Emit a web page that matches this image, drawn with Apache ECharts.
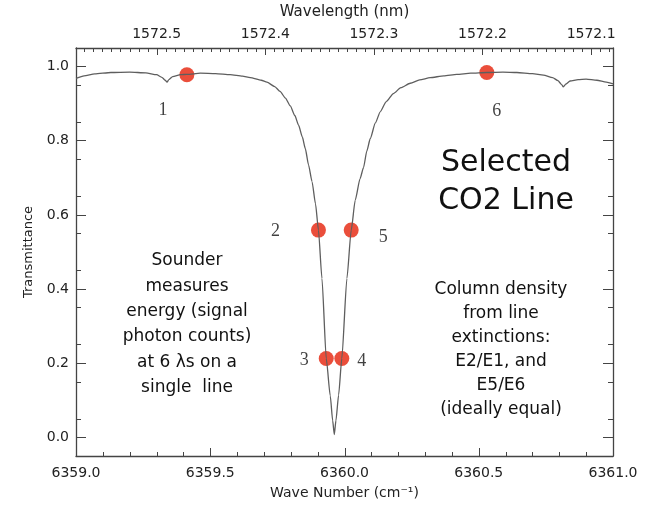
<!DOCTYPE html>
<html>
<head>
<meta charset="utf-8">
<title>Selected CO2 Line</title>
<script src="https://cdn.jsdelivr.net/npm/echarts@6/dist/echarts.min.js"></script>
<style>
  html, body { margin: 0; padding: 0; background: #ffffff; }
  #chart { width: 649px; height: 505px; }
</style>
</head>
<body>
<div id="chart"></div>
<script>
// Transmittance spectrum across the selected CO2 absorption line
const waveNumber = [
  6359.000, 6359.030, 6359.070, 6359.130, 6359.200, 6359.260, 6359.300, 6359.320,
  6359.332, 6359.339, 6359.346, 6359.360, 6359.390, 6359.413, 6359.463, 6359.520,
  6359.574, 6359.620, 6359.649, 6359.690, 6359.711, 6359.740, 6359.760, 6359.780,
  6359.798, 6359.815, 6359.829, 6359.843, 6359.854, 6359.866, 6359.879, 6359.892,
  6359.903, 6359.916, 6359.932, 6359.947, 6359.956, 6359.962, 6359.968, 6359.978,
  6359.990, 6360.009, 6360.025, 6360.040, 6360.058, 6360.071, 6360.083, 6360.096,
  6360.115, 6360.133, 6360.155, 6360.182, 6360.210, 6360.245, 6360.280, 6360.319,
  6360.370, 6360.418, 6360.470, 6360.530, 6360.590, 6360.642, 6360.700, 6360.741,
  6360.775, 6360.795, 6360.808, 6360.815, 6360.825, 6360.840, 6360.870, 6360.900,
  6360.940, 6360.975, 6361.000
];
const transmittance = [
  0.968, 0.975, 0.980, 0.984, 0.985, 0.983, 0.978, 0.971,
  0.963, 0.958, 0.965, 0.973, 0.978, 0.979, 0.982, 0.981,
  0.978, 0.974, 0.970, 0.963, 0.958, 0.946, 0.933, 0.915,
  0.894, 0.868, 0.842, 0.810, 0.779, 0.735, 0.690, 0.630,
  0.559, 0.429, 0.213, 0.112, 0.045, 0.008, 0.045, 0.114,
  0.213, 0.429, 0.559, 0.640, 0.698, 0.728, 0.772, 0.806,
  0.848, 0.878, 0.905, 0.927, 0.943, 0.955, 0.964, 0.970,
  0.975, 0.979, 0.982, 0.984, 0.985, 0.984, 0.981, 0.977,
  0.970, 0.962, 0.952, 0.945, 0.953, 0.961, 0.965, 0.966,
  0.963, 0.958, 0.953
];

// The six sampled wavelengths on the line
const sampleNames = ['1', '2', '3', '4', '5', '6'];
const sampleWaveNumber = [6359.413, 6359.903, 6359.932, 6359.990, 6360.025, 6360.530];
const sampleTransmittance = [0.978, 0.559, 0.213, 0.213, 0.559, 0.984];

// Axis ticks
const waveNumberTicks = [6359.0, 6359.5, 6360.0, 6360.5, 6361.0];
const wavelengthTicks = [1572.1, 1572.2, 1572.3, 1572.4, 1572.5];
const transmittanceTicks = [0.0, 0.2, 0.4, 0.6, 0.8, 1.0];

// Plot ranges
const waveNumberMin = 6359.0, waveNumberMax = 6361.0;
const transMin = -0.05, transMax = 1.05;
// wavelength (nm) = 1e7 / wave number (cm^-1)
const wavelengthLeft = 1e7 / waveNumberMin;
const wavelengthRight = 1e7 / waveNumberMax;

// Minor tick positions
const waveNumberMinor = [];
for (let j = 1; j < 20; j++) {
  if (j % 5 !== 0) waveNumberMinor.push(+(waveNumberMin + j * 0.1).toFixed(2));
}
const wavelengthMinor = [];
for (let j = 0; j <= 80; j++) {
  const v = 1572 + j / 120;
  if (v > wavelengthRight && v < wavelengthLeft && j % 12 !== 0) wavelengthMinor.push(+v.toFixed(5));
}
const transMinor = [];
for (let j = 1; j <= 19; j += 2) transMinor.push(+(j * 0.05).toFixed(2));

// Label placement for the sample markers
const sampleLabelOffsets = [[-24, 36], [-43, 1], [-22, 2], [20, 3], [32, 7], [10, 39]];

const AXIS_COLOR = '#444';
const SANS = '"DejaVu Sans", sans-serif';

// One edge of the frame: a value axis with inward ticks at the given values
function edgeAxis(opts) {
  return {
    type: 'value', position: opts.position, inverse: !!opts.inverse, min: opts.min, max: opts.max,
    splitLine: { show: false },
    axisLine: { show: opts.line !== false, onZero: false, lineStyle: { color: AXIS_COLOR, width: 1.3 } },
    axisTick: { show: opts.tickLength > 0, inside: true, length: opts.tickLength || 0, customValues: opts.ticks,
      lineStyle: { color: AXIS_COLOR, width: 1 } },
    axisLabel: opts.labels ? { show: true, margin: opts.labelMargin, fontFamily: SANS, fontSize: 14,
      color: '#222', customValues: opts.ticks, formatter: v => v.toFixed(1) } : { show: false },
    name: opts.name || '', nameLocation: 'middle', nameGap: opts.nameGap || 0,
    nameTextStyle: { fontFamily: SANS, fontSize: opts.nameSize || 14, color: '#222' }
  };
}

// Free-standing annotations
const annotations = [
  {
    type: 'text', x: 506, y: 144,
    style: {
      text: 'Selected\nCO2 Line', textAlign: 'center', textVerticalAlign: 'top',
      font: '30px "DejaVu Sans", sans-serif', lineHeight: 38, fill: '#111'
    }
  },
  {
    type: 'text', x: 187, y: 248,
    style: {
      text: 'Sounder\nmeasures\nenergy (signal\nphoton counts)\nat 6 \u03BBs on a\nsingle  line',
      textAlign: 'center', textVerticalAlign: 'top',
      font: '17px "DejaVu Sans", sans-serif', lineHeight: 25.4, fill: '#111'
    }
  },
  {
    type: 'text', x: 501, y: 278,
    style: {
      text: 'Column density\nfrom line\nextinctions:\nE2/E1, and\nE5/E6\n(ideally equal)',
      textAlign: 'center', textVerticalAlign: 'top',
      font: '17px "DejaVu Sans", sans-serif', lineHeight: 24, fill: '#111'
    }
  }
];

const chart = echarts.init(document.getElementById('chart'));
chart.setOption({
  animation: false,
  grid: { left: 76, right: 36, top: 48, bottom: 46 },
  xAxis: [
    edgeAxis({ position: 'bottom', min: waveNumberMin, max: waveNumberMax, ticks: waveNumberTicks,
      labels: true, labelMargin: 10,
      name: 'Wave Number (cm\u207B\u00B9)', nameGap: 30, nameSize: 14 }),
    edgeAxis({ position: 'top', inverse: true, min: wavelengthRight, max: wavelengthLeft, ticks: wavelengthTicks,
      labels: true, labelMargin: 7,
      name: 'Wavelength (nm)', nameGap: 28, nameSize: 15 })
  ],
  yAxis: [
    edgeAxis({ position: 'left', min: transMin, max: transMax, ticks: transmittanceTicks,
      tickLength: 10, labels: true, labelMargin: 7,
      name: 'Transmittance', nameGap: 41, nameSize: 13 }),
    edgeAxis({ position: 'left', min: transMin, max: transMax, ticks: transMinor, tickLength: 5, line: false }),
    edgeAxis({ position: 'right', min: transMin, max: transMax, ticks: transmittanceTicks, tickLength: 10 }),
    edgeAxis({ position: 'right', min: transMin, max: transMax, ticks: transMinor, tickLength: 5, line: false })
  ],
  series: [
    {
      name: 'Transmittance',
      type: 'line',
      xAxisIndex: 0, yAxisIndex: 0,
      data: waveNumber.map((w, i) => [w, transmittance[i]]),
      showSymbol: false,
      smooth: 0.2,
      smoothMonotone: 'x',
      lineStyle: { color: '#5e5e5e', width: 1.3 }
    },
    {
      name: 'Samples',
      type: 'scatter',
      xAxisIndex: 0, yAxisIndex: 0,
      symbol: 'circle',
      symbolSize: 15,
      itemStyle: { color: '#e5220a' },
      data: sampleWaveNumber.map((w, i) => ({
        value: [w, sampleTransmittance[i]],
        name: sampleNames[i],
        label: { offset: sampleLabelOffsets[i] }
      })),
      label: {
        show: true, position: 'inside',
        formatter: p => p.name,
        fontFamily: '"Liberation Serif", serif', fontSize: 18, color: '#111'
      }
    }
  ],
  graphic: annotations
});

// Inward ticks along the bottom (wave number) and top (wavelength) edges.
// Wavelength ticks are placed on the wave-number scale via wn = 1e7 / wavelength.
const frameBottom = chart.convertToPixel({ yAxisIndex: 0 }, transMin);
const frameTop = chart.convertToPixel({ yAxisIndex: 0 }, transMax);
function edgeTicks(waveNumbers, edgeY, dir, len) {
  return waveNumbers.map(wn => {
    const x = Math.round(chart.convertToPixel({ xAxisIndex: 0 }, wn)) + 0.5;
    return {
      type: 'line', silent: true, z: 5,
      shape: { x1: x, y1: edgeY, x2: x, y2: edgeY + dir * len },
      style: { stroke: AXIS_COLOR, lineWidth: 1 }
    };
  });
}
const toWaveNumber = wl => 1e7 / wl;
const tickMarks = [].concat(
  edgeTicks(waveNumberTicks, frameBottom, -1, 8),
  edgeTicks(waveNumberMinor, frameBottom, -1, 4),
  edgeTicks(wavelengthTicks.map(toWaveNumber), frameTop, 1, 7),
  edgeTicks(wavelengthMinor.map(toWaveNumber), frameTop, 1, 4)
);
chart.setOption({ graphic: annotations.concat(tickMarks) });
</script>
</body>
</html>
